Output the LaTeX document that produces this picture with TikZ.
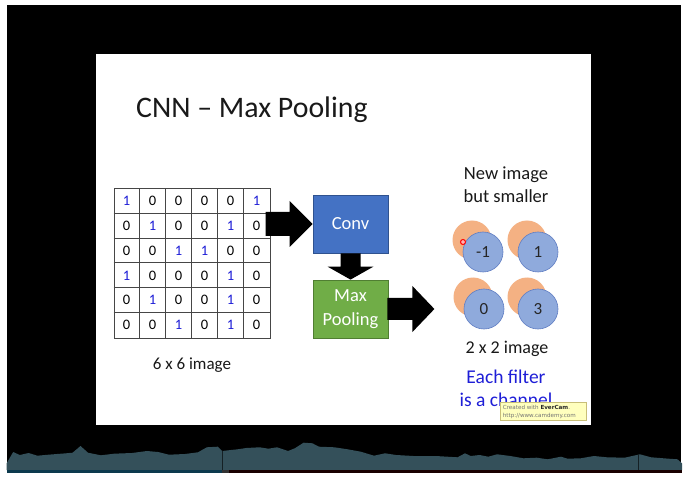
\documentclass[tikz,border=0pt]{standalone}
\usepackage{fontspec}
\setmainfont{Carlito}
\newfontfamily\wmfont{DejaVu Sans}
\usetikzlibrary{calc}
\newcommand\myfs[1]{\fontsize{#1}{#1}\selectfont}
\definecolor{numblue}{RGB}{30,30,215}
\definecolor{convblue}{RGB}{68,114,196}
\definecolor{convedge}{RGB}{47,82,143}
\definecolor{poolgreen}{RGB}{112,173,71}
\definecolor{pooledge}{RGB}{80,126,50}
\definecolor{orangec}{RGB}{244,177,131}
\definecolor{bluec}{RGB}{143,170,220}
\definecolor{bluecedge}{RGB}{95,125,195}
\definecolor{wave}{RGB}{52,80,90}
\definecolor{wavebar}{RGB}{12,58,78}
\definecolor{wmfill}{RGB}{255,255,190}
\definecolor{wmedge}{RGB}{200,190,120}
\definecolor{gridline}{RGB}{70,70,70}
\tikzset{
  numtxt/.style={font=\myfs{14.5}, text=black, inner sep=0, anchor=center},
  bluenum/.style={numtxt, text=numblue},
  procbox/.style={minimum width=75, minimum height=58, inner sep=0, text=white, font=\fontsize{18.5}{24}\selectfont, align=center, line width=0.8pt},
  orangecirc/.style={circle, fill=orangec, minimum size=39, inner sep=0},
  bluecirc/.style={circle, fill=bluec, draw=bluecedge, line width=0.6pt, minimum size=40, inner sep=0, font=\myfs{17}, text=black!85},
  blockarrow/.style={fill=black},
  caption/.style={font=\myfs{17}, text=black!90, inner sep=0, anchor=base},
}
\begin{document}
\begin{tikzpicture}[x=1pt,y=-1pt]
\useasboundingbox (0,0) rectangle (688,478);
% frame
\fill[white] (0,0) rectangle (688,478);
\fill[black] (7,5) rectangle (681,473);
\fill[white] (96,54) rectangle (591,425);
% waveform
\fill[wave] (6.6,470) -- (6.6,463.3) -- (13.2,452) -- (19.8,455) -- (28.6,453) -- (37.4,455.7) -- (48.4,454.7) -- (66,453.3) -- (72.6,452.7) -- (80.5,446) -- (88,452.7) -- (101,455.3) -- (114,453.7) -- (132,453) -- (147,451) -- (158,452) -- (169,454.7) -- (185,454) -- (198,452.3) -- (206.8,447.3) -- (217.8,446.7) -- (222,451) -- (237.6,449.3) -- (246.4,448) -- (259.6,447.3) -- (268.4,448.7) -- (277,447.3) -- (288,451) -- (294.8,448.3) -- (303.6,442.7) -- (312.4,443.3) -- (319,446.7) -- (334.4,447.3) -- (347.6,449.3) -- (360.8,451.7) -- (374,455.7) -- (385,453.3) -- (396,455) -- (413.5,456) -- (435.5,456) -- (457.5,457.3) -- (465,453.3) -- (470.7,456) -- (479.5,455) -- (488.3,456.7) -- (497,454.3) -- (510.3,456) -- (523.5,458.3) -- (536.7,457.7) -- (547.7,459.3) -- (561,456.7) -- (567.5,458.7) -- (580.7,458.3) -- (594,456) -- (607,457.3) -- (624.7,457.7) -- (640,454.3) -- (651,457.3) -- (668.7,458.7) -- (677.5,459.3) -- (682,463.3) -- (682,470) -- cycle;
\draw[black!60!wave, line width=0.5pt] (222,451) -- (222,470);
\draw[black!60!wave, line width=0.5pt] (638,455) -- (638,470);
\fill[wavebar] (6.6,470) rectangle (222,472.7);
\fill[black!80] (222,470) rectangle (229,472.7);
\fill[black!90!red] (229,470) rectangle (682,472.7);
% title
\node[font=\myfs{29.8}, text=black!90, inner sep=0, anchor=base west] (title) at (136,118) {CNN – Max Pooling};
% grid
\node[draw=gridline, line width=1pt, minimum width=156, minimum height=149, inner sep=0] (grid) at (192,263.5) {};
\foreach \i in {1,...,5} {
  \draw[gridline, line width=1pt] ($(grid.north west)+(26*\i,0)$) -- ($(grid.south west)+(26*\i,0)$);
  \draw[gridline, line width=1pt] ($(grid.north west)+(0,149/6*\i)$) -- ($(grid.north east)+(0,149/6*\i)$);
}
\foreach \row/\vals in {1/{1,0,0,0,0,1}, 2/{0,1,0,0,1,0}, 3/{0,0,1,1,0,0}, 4/{1,0,0,0,1,0}, 5/{0,1,0,0,1,0}, 6/{0,0,1,0,1,0}} {
  \foreach \v [count=\col] in \vals {
    \ifnum\v=1
      \node[bluenum] (n\row\col) at ($(grid.north west)+(26*\col-13,149/6*\row-149/12)$) {1};
    \else
      \node[numtxt] (n\row\col) at ($(grid.north west)+(26*\col-13,149/6*\row-149/12)$) {0};
    \fi
  }
}
\node[caption] (cap6) at (192,369) {6 x 6 image};
% boxes
\node[procbox, fill=convblue, draw=convedge] (conv) at (350.5,224) {Conv};
\node[procbox, fill=poolgreen, draw=pooledge] (pool) at (350.5,309) {Max\\Pooling};
% block arrows
\fill[blockarrow] (conv.west) -- ++(-23,-23) -- ++(0,11) -- ++(-24,0) -- ++(0,24) -- ++(24,0) -- ++(0,11) -- cycle;
\fill[blockarrow] (pool.north) -- ++(-23,-13) -- ++(13,0) -- ($(conv.south)+(-10,0)$) -- ++(20,0) -- ($(pool.north)+(10,-13)$) -- ++(13,0) -- cycle;
\coordinate (outtip) at ($(pool.east)+(46,0)$);
\fill[blockarrow] ($(pool.east)+(-1,-11)$) -- ++(25,0) -- ++(0,-12) -- (outtip) -- ++(-22,23) -- ++(0,-12) -- ++(-25,0) -- cycle;
% output circles
\node[caption, font=\myfs{18.5}] (new1) at (506,180) {New image};
\node[caption, font=\myfs{18.5}] (new2) at (506,203) {but smaller};
\foreach \nm/\cx/\cy/\val in {a/483/252/-1, b/538/252/1, c/484/309/0, d/538/309/3} {
  \node[orangecirc] (o\nm) at (\cx-11,\cy-12) {};
  \node[bluecirc] (b\nm) at (\cx,\cy) {\val};
}
\node[circle, draw=red, fill=red!30, line width=1pt, minimum size=5, inner sep=0] (laser) at (463,242) {};
\node[caption, font=\myfs{18}] (cap2) at (507,353) {2 x 2 image};
\node[caption, font=\myfs{19.5}, text=numblue] (ef1) at (506,383) {Each filter};
\node[caption, font=\myfs{19.5}, text=numblue] (ef2) at (506,406) {is a channel};
% watermark
\node[fill=wmfill, draw=wmedge, line width=0.6pt, minimum width=86, minimum height=18, inner sep=0] (wm) at (543,411) {};
\node[font=\wmfont\myfs{5.6}, text=black!55, inner sep=0, anchor=base west] (wm1) at ($(wm.north west)+(3,7.5)$) {Created with \textcolor{black!85}{\textbf{EverCam}}.};
\node[font=\wmfont\myfs{5.6}, text=black!55, inner sep=0, anchor=base west] (wm2) at ($(wm.north west)+(3,15.5)$) {http://www.camdemy.com};
\end{tikzpicture}
\end{document}
